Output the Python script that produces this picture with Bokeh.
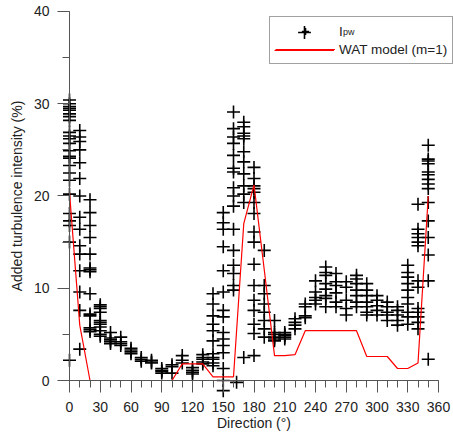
from bokeh.plotting import figure
from bokeh.models import Range1d, SingleIntervalTicker, Legend, LegendItem, ColumnDataSource
from bokeh.embed import file_html
from bokeh.resources import INLINE

# ---------------- data ----------------
# measured added turbulence intensity I_pw (direction in deg, value in %)
ipw_dir = (
    [0] * 24 + [10] * 15 + [20] * 14 + [30] * 11 + [40] * 5 + [50] * 4 + [60] * 4 + [70] * 3 + [80] * 3
    + [90] * 4 + [100] * 3 + [110] * 3 + [120] * 4 + [130] * 5 + [140] * 11 + [150] * 15 + [160] * 16
    + [163] + [170] * 12 + [180] * 16 + [190] * 8 + [200] * 6 + [210] * 5 + [220] * 4 + [230] * 4
    + [240] * 5 + [250] * 8 + [260] * 6 + [270] * 5 + [280] * 7 + [290] * 7 + [300] * 5 + [310] * 5
    + [320] * 5 + [330] * 10 + [340] * 13 + [350] * 15
)
ipw_val = [
    30.4, 30.0, 29.7, 29.5, 29.3, 28.9, 28.6, 28.2, 26.9, 26.5, 26.2, 25.7, 24.9, 24.3, 24.1, 23.3,
    22.5, 21.7, 20.2, 18.1, 17.3, 16.8, 15.0, 2.2,                                   # 0
    27.1, 26.4, 25.9, 25.0, 23.6, 21.9, 20.0, 17.7, 16.4, 14.6, 13.7, 11.9, 9.6, 7.6, 3.4,  # 10
    19.6, 18.2, 16.8, 15.5, 13.7, 12.2, 12.0, 11.8, 9.4, 7.2, 7.0, 5.7, 5.5, 5.3,    # 20
    8.2, 8.0, 7.8, 7.4, 6.5, 6.3, 6.1, 5.8, 5.4, 5.0, 4.8,                            # 30
    5.2, 4.6, 4.4, 4.2, 4.0,                                                          # 40
    4.7, 4.2, 4.0, 3.8,                                                               # 50
    3.5, 3.3, 3.1, 2.9,                                                               # 60
    2.5, 2.3, 2.1,                                                                    # 70
    2.2, 2.0, 1.9,                                                                    # 80
    1.3, 1.1, 1.0, 0.8,                                                               # 90
    1.7, 1.5, 0.8,                                                                    # 100
    2.7, 2.2, 1.9,                                                                    # 110
    1.4, 1.1, 0.9, 0.7,                                                               # 120
    2.8, 2.5, 2.3, 2.0, 1.8,                                                          # 130
    9.4, 8.3, 7.0, 6.1, 5.4, 4.3, 2.9, 2.5, 2.3, 1.9, 1.6,                            # 140
    18.2, 17.1, 16.4, 14.5, 11.9, 9.6, 7.6, 6.9, 5.2, 4.5, 3.8, 3.0, 1.3, 0.0, -1.1,  # 150
    29.1, 27.3, 26.4, 25.7, 24.4, 23.0, 22.6, 20.9, 20.0, 18.9, 16.4, 14.1, 12.5, 11.6, 10.3, 9.8,  # 160
    -0.2,                                                                             # 163
    28.0, 27.5, 26.8, 26.5, 26.2, 24.8, 23.7, 22.4, 21.1, 20.2, 19.3, 2.5,            # 170
    23.1, 21.9, 21.1, 20.8, 20.4, 19.3, 18.1, 16.1, 15.0, 12.6, 10.3, 8.7, 7.6, 6.1, 5.1, 2.7,  # 180
    14.1, 10.3, 9.4, 8.3, 7.4, 6.5, 5.6, 4.7,                                         # 190
    6.5, 5.2, 5.0, 4.7, 4.5, 4.3,                                                     # 200
    5.2, 5.0, 4.9, 4.7, 4.5,                                                          # 210
    6.7, 6.3, 6.0, 5.6,                                                               # 220
    8.3, 8.0, 7.0, 6.8,                                                               # 230
    10.8, 9.6, 9.0, 8.7, 8.3,                                                         # 240
    12.3, 11.7, 11.4, 10.5, 9.9, 9.2, 8.9, 8.0,                                       # 250
    11.6, 10.7, 10.3, 9.5, 8.5, 8.0,                                                  # 260
    10.7, 10.1, 8.7, 7.8, 7.1,                                                        # 270
    11.4, 11.0, 10.5, 9.8, 9.2, 8.5, 8.0,                                             # 280
    10.5, 9.8, 9.2, 8.5, 8.0, 7.4, 7.1,                                               # 290
    9.2, 8.7, 8.1, 7.6, 7.1,                                                          # 300
    8.5, 8.0, 7.4, 7.1, 6.5,                                                          # 310
    8.0, 7.6, 7.1, 6.5, 6.0,                                                          # 320
    12.5, 11.7, 11.2, 10.5, 9.8, 9.0, 8.3, 7.4, 6.9, 6.1,                             # 330
    19.1, 16.4, 15.9, 15.5, 15.0, 14.6, 10.8, 10.1, 7.8, 7.4, 6.9, 6.3, 5.6,          # 340
    25.5, 24.0, 23.8, 23.5, 22.6, 22.3, 21.8, 21.3, 20.8, 19.3, 17.3, 15.5, 13.6, 10.8, 2.3,  # 350
]

# WAT model (m=1)
wat_dir = [0, 10, 20, 30, 40, 50, 60, 70, 80, 90, 100, 110, 120, 130, 140, 150, 160, 170, 180,
           190, 200, 210, 220, 230, 240, 250, 260, 270, 280, 290, 300, 310, 320, 330, 340, 350]
wat_val = [20.4, 6.0, 0, 0, 0, 0, 0, 0, 0, 0, 0, 1.8, 1.8, 1.8, 0.4, 0.4, 0.4, 17.0, 21.2,
           12.0, 2.7, 2.7, 2.8, 5.4, 5.4, 5.4, 5.4, 5.4, 5.4, 2.6, 2.6, 2.6, 1.3, 1.3, 1.9, 20.0]

x_ticks_interval = 30
y_ticks_interval = 10

FONT = "Liberation Sans"
TXT = "#222222"
AX = "#555555"
RED = "#ff0000"

W, H = 453, 436
p = figure(width=W, height=H, output_backend="svg", toolbar_location=None,
           x_range=Range1d(-67.32, 374.63), y_range=Range1d(-6.07, 41.19),
           min_border_left=0, min_border_right=0, min_border_top=0, min_border_bottom=0)
p.outline_line_color = None
p.grid.visible = False
p.background_fill_color = "white"
p.border_fill_color = "white"

src_i = ColumnDataSource(dict(x=ipw_dir, y=ipw_val))
src_w = ColumnDataSource(dict(x=wat_dir, y=wat_val))

r_i = p.scatter("x", "y", source=src_i, marker="cross", size=13, line_width=1.6, line_color="black")
r_w = p.line("x", "y", source=src_w, line_color=RED, line_width=1.2)

# axes
p.xaxis.ticker = SingleIntervalTicker(interval=x_ticks_interval, num_minor_ticks=3)
p.yaxis.ticker = SingleIntervalTicker(interval=y_ticks_interval, num_minor_ticks=2)
p.xaxis.bounds = (0, 360)
p.yaxis.bounds = (0, 40)
p.xaxis.fixed_location = 0
p.yaxis.fixed_location = 0
for ax in (p.xaxis, p.yaxis):
    ax.axis_line_color = AX
    ax.axis_line_width = 1
    ax.major_tick_line_color = AX
    ax.minor_tick_line_color = AX
    ax.major_tick_in = 0
    ax.minor_tick_in = 0
    ax.major_tick_out = 12
    ax.minor_tick_out = 7
    ax.major_label_text_font = FONT
    ax.major_label_text_font_size = "14px"
    ax.major_label_text_color = TXT
    ax.axis_label_text_font = FONT
    ax.axis_label_text_font_size = "14px"
    ax.axis_label_text_color = TXT
    ax.axis_label_text_font_style = "normal"
p.xaxis.major_label_standoff = 9
p.yaxis.major_label_standoff = 8
p.xaxis.axis_label = "Direction (°)"
p.yaxis.axis_label = "Added turbulence intensity (%)"
p.xaxis.axis_label_standoff = 0
p.yaxis.axis_label_standoff = 6


def overlay(leg):
    leg.margin = 0
    leg.padding = 0
    leg.glyph_width = 60
    leg.label_text_font = FONT
    leg.label_text_color = TXT
    leg.border_line_color = None
    leg.background_fill_alpha = 0
    return leg


# main legend box (rows: I_pw, WAT model)
legend = Legend(items=[LegendItem(label="I", renderers=[r_i]),
                       LegendItem(label="WAT model (m=1)", renderers=[r_w])],
                location=(269, 372))
legend.margin = 0
legend.padding = 5
legend.spacing = 0
legend.glyph_height = 18
legend.glyph_width = 60
legend.label_standoff = 4
legend.label_text_font = FONT
legend.label_text_font_size = "13.5px"
legend.label_text_color = TXT
legend.border_line_color = "#444444"
legend.border_line_width = 1
legend.background_fill_color = "white"
legend.background_fill_alpha = 1
p.add_layout(legend, "center")

# borderless overlay: red model line glyph on row 2
legend_line = overlay(Legend(items=[LegendItem(label=" ", renderers=[r_w])], location=(274, 377)))
legend_line.glyph_height = 18
legend_line.label_standoff = 2
legend_line.label_text_font_size = "4px"
p.add_layout(legend_line, "center")

# borderless overlay: full-size cross marker and the "pw" subscript of I_pw
legend_sub = overlay(Legend(items=[LegendItem(label="pw", renderers=[r_i])], location=(274, 388)))
legend_sub.glyph_height = 32
legend_sub.label_standoff = 9
legend_sub.label_text_font_size = "9px"
legend_sub.label_height = 10
p.add_layout(legend_sub, "center")

open("out.html", "w").write(file_html(p, INLINE))
